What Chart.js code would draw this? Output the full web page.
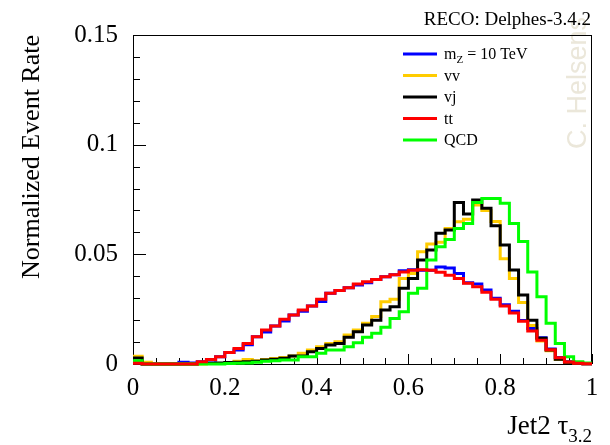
<!DOCTYPE html>
<html>
<head>
<meta charset="utf-8">
<script src="https://cdn.jsdelivr.net/npm/chart.js@4/dist/chart.umd.min.js"></script>
<style>
  html, body { margin: 0; padding: 0; background: #fff; }
</style>
</head>
<body>
<canvas id="chart" width="610" height="445"></canvas>
<script>
// 50 bins of width 0.02 between 0 and 1
const binEdges = Array.from({ length: 51 }, (_, i) => +(i * 0.02).toFixed(2));

// legend names
const seriesNames = ['m_{Z} = 10 TeV', 'vv', 'vj', 'tt', 'QCD'];
const seriesColors = ['#0000ff', '#ffcc00', '#000000', '#ff0000', '#00ff00'];

// bin contents
const mz10 = [0.0006, 0, 0, 0, 0, 0.0008, 0.0005, 0.001, 0.0018, 0.0033,
  0.0052, 0.0064, 0.0088, 0.0124, 0.0146, 0.0173, 0.0196, 0.0223, 0.024, 0.0264,
  0.0285, 0.0322, 0.0335, 0.0348, 0.036, 0.037, 0.0385, 0.0398, 0.0407, 0.0425,
  0.043, 0.0428, 0.0428, 0.0442, 0.0438, 0.0413, 0.037, 0.0365, 0.0337, 0.03,
  0.027, 0.024, 0.0198, 0.0162, 0.012, 0.0068, 0.003, 0.001, 0.0003, 0.0001];
const vv = [0.0035, 0.0008, 0, 0, 0, 0, 0, 0, 0.0002, 0.0002,
  0.0003, 0.0012, 0.002, 0.0015, 0.002, 0.0025, 0.003, 0.0036, 0.0049, 0.0064,
  0.0079, 0.0094, 0.0102, 0.0132, 0.0155, 0.0186, 0.0216, 0.0284, 0.0295, 0.039,
  0.0413, 0.0512, 0.0547, 0.0555, 0.0618, 0.0649, 0.066, 0.0725, 0.070, 0.065,
  0.048, 0.039, 0.028, 0.0175, 0.0105, 0.006, 0.002, 0.0008, 0.0003, 0.0001];
const vj = [0.0027, 0, 0, 0, 0, 0, 0, 0.0002, 0.0003, 0.0005,
  0.0007, 0.0008, 0.001, 0.0012, 0.0018, 0.0022, 0.0026, 0.0036, 0.0036, 0.0056,
  0.0071, 0.0087, 0.0094, 0.0122, 0.0147, 0.0178, 0.02, 0.0246, 0.0261, 0.0345,
  0.039, 0.0474, 0.052, 0.0596, 0.0611, 0.0736, 0.0684, 0.0748, 0.071, 0.063,
  0.0543, 0.0429, 0.0315, 0.02, 0.0117, 0.0064, 0.0022, 0.0008, 0.0003, 0.0001];
const tt = [0.0003, 0, 0, 0, 0, 0, 0, 0.001, 0.002, 0.0033,
  0.0052, 0.0071, 0.0094, 0.0124, 0.0155, 0.0173, 0.0204, 0.0223, 0.0246, 0.0264,
  0.0295, 0.0322, 0.0335, 0.0348, 0.0365, 0.0375, 0.0385, 0.0398, 0.0407, 0.042,
  0.0428, 0.043, 0.0428, 0.0418, 0.0405, 0.039, 0.0368, 0.0352, 0.0327, 0.0295,
  0.0265, 0.0232, 0.0195, 0.015, 0.0108, 0.0065, 0.0028, 0.0009, 0.0003, 0.0001];
const qcd = [0.0015, 0, 0, 0, 0, 0, 0, 0, 0, 0,
  0.0002, 0.0003, 0.0005, 0.0008, 0.0012, 0.0015, 0.0018, 0.0018, 0.0033, 0.0033,
  0.0049, 0.0064, 0.0064, 0.0079, 0.0097, 0.0122, 0.014, 0.0167, 0.0208, 0.0238,
  0.0322, 0.0345, 0.0474, 0.0535, 0.0568, 0.0618, 0.0641, 0.0736, 0.0755, 0.0755,
  0.0733, 0.0641, 0.0558, 0.042, 0.0307, 0.0186, 0.0094, 0.0033, 0.001, 0.0004];

// axis ticks
const xTickValues = [0, 0.2, 0.4, 0.6, 0.8, 1];
const xTickLabels = ['0', '0.2', '0.4', '0.6', '0.8', '1'];
const yTickValues = [0, 0.05, 0.1, 0.15];
const yTickLabels = ['0', '0.05', '0.1', '0.15'];

const serif = '"Liberation Serif", "Times New Roman", serif';

// histogram -> step points on the left bin edges
function toSteps(vals) {
  return binEdges.map((e, i) => ({ x: e, y: vals[Math.min(i, vals.length - 1)] }));
}

// text with _{sub} parts
function richParts(str) {
  const parts = [];
  const re = /_\{([^}]*)\}/g;
  let last = 0, m;
  while ((m = re.exec(str)) !== null) {
    if (m.index > last) parts.push([str.slice(last, m.index), false]);
    parts.push([m[1], true]);
    last = re.lastIndex;
  }
  if (last < str.length) parts.push([str.slice(last), false]);
  return parts;
}

function drawRich(ctx, str, x, y, size, align) {
  const parts = richParts(str);
  const subSize = Math.round(size * 0.7);
  let total = 0;
  parts.forEach(([t, sub]) => {
    ctx.font = (sub ? subSize : size) + 'px ' + serif;
    total += ctx.measureText(t).width;
  });
  let cx = align === 'right' ? x - total : x;
  ctx.textAlign = 'left';
  parts.forEach(([t, sub]) => {
    ctx.font = (sub ? subSize : size) + 'px ' + serif;
    ctx.fillText(t, cx, sub ? y + size * 0.28 : y);
    cx += ctx.measureText(t).width;
  });
}

const rootStyle = {
  id: 'rootStyle',
  beforeDatasetsDraw(chart) {
    const { ctx, chartArea: a, scales: { x, y } } = chart;
    ctx.save();
    // watermark
    ctx.translate(579, 149);
    ctx.rotate(-Math.PI / 2);
    ctx.font = '27px "Liberation Sans", Arial, sans-serif';
    ctx.fillStyle = '#ebe7da';
    ctx.textBaseline = 'middle';
    ctx.textAlign = 'left';
    ctx.fillText('C. Helsens', 0, 0);
    ctx.restore();

    ctx.save();
    ctx.strokeStyle = '#000';
    ctx.lineWidth = 1;
    ctx.strokeRect(Math.round(a.left) + 0.5, Math.round(a.top) + 0.5,
      Math.round(a.width) - 1, Math.round(a.height));
    ctx.beginPath();
    for (let k = 0; k <= 15; k++) {
      const py = Math.round(y.getPixelForValue(k * 0.01)) + 0.5;
      const len = k % 5 === 0 ? 13 : 7;
      ctx.moveTo(a.left, py);
      ctx.lineTo(a.left + len, py);
    }
    for (let k = 0; k <= 20; k++) {
      const px = Math.round(x.getPixelForValue(k * 0.05)) + 0.5;
      const len = k % 4 === 0 ? 10 : 6;
      ctx.moveTo(px, a.bottom);
      ctx.lineTo(px, a.bottom - len);
    }
    ctx.stroke();
    ctx.restore();
  },
  afterDraw(chart) {
    const { ctx, chartArea: a } = chart;
    ctx.save();
    ctx.fillStyle = '#000';
    ctx.textBaseline = 'alphabetic';

    // top label
    ctx.font = '19px ' + serif;
    ctx.textAlign = 'right';
    ctx.fillText('RECO: Delphes-3.4.2', 591, 25);

    // x axis title
    drawRich(ctx, 'Jet2 τ_{3.2}', a.right, 434, 27, 'right');

    // legend
    chart.data.datasets.forEach((ds, i) => {
      const cy = 54 + i * 21.5;
      ctx.strokeStyle = ds.borderColor;
      ctx.lineWidth = 3;
      ctx.beginPath();
      ctx.moveTo(403, cy);
      ctx.lineTo(437, cy);
      ctx.stroke();
      ctx.fillStyle = '#000';
      drawRich(ctx, ds.label, 444, cy + 5, 16, 'left');
    });
    ctx.restore();
  }
};

const series = [mz10, vv, vj, tt, qcd];
const drawOrder = [4, 3, 2, 0, 1];

const config = {
  type: 'line',
  data: {
    datasets: series.map((vals, i) => ({
      label: seriesNames[i],
      data: toSteps(vals),
      borderColor: seriesColors[i],
      backgroundColor: seriesColors[i],
      borderWidth: 3,
      pointRadius: 0,
      stepped: true,
      fill: false,
      clip: 6,
      order: drawOrder[i]
    }))
  },
  options: {
    responsive: false,
    animation: false,
    layout: { padding: { top: 35, right: 18, left: 0, bottom: 0 } },
    plugins: {
      legend: { display: false },
      tooltip: { enabled: false }
    },
    scales: {
      x: {
        type: 'linear',
        min: 0,
        max: 1,
        grid: { display: false, drawTicks: false },
        border: { display: false },
        afterBuildTicks: s => { s.ticks = xTickValues.map(v => ({ value: v })); },
        afterFit: s => { s.height = 81; },
        ticks: {
          padding: 9,
          maxRotation: 0,
          color: '#000',
          font: { family: serif, size: 25 },
          callback: (v, i) => xTickLabels[i]
        }
      },
      y: {
        type: 'linear',
        min: 0,
        max: 0.15,
        grid: { display: false, drawTicks: false },
        border: { display: false },
        afterBuildTicks: s => { s.ticks = yTickValues.map(v => ({ value: v })); },
        afterFit: s => { s.width = 133; },
        ticks: {
          padding: 15,
          color: '#000',
          font: { family: serif, size: 25 },
          callback: (v, i) => yTickLabels[i]
        },
        title: {
          display: true,
          text: 'Normalized Event Rate',
          align: 'end',
          color: '#000',
          font: { family: serif, size: 26 },
          padding: { top: 17, bottom: 0 }
        }
      }
    }
  },
  plugins: [rootStyle]
};

const chart = new Chart(document.getElementById('chart'), config);
</script>
</body>
</html>
